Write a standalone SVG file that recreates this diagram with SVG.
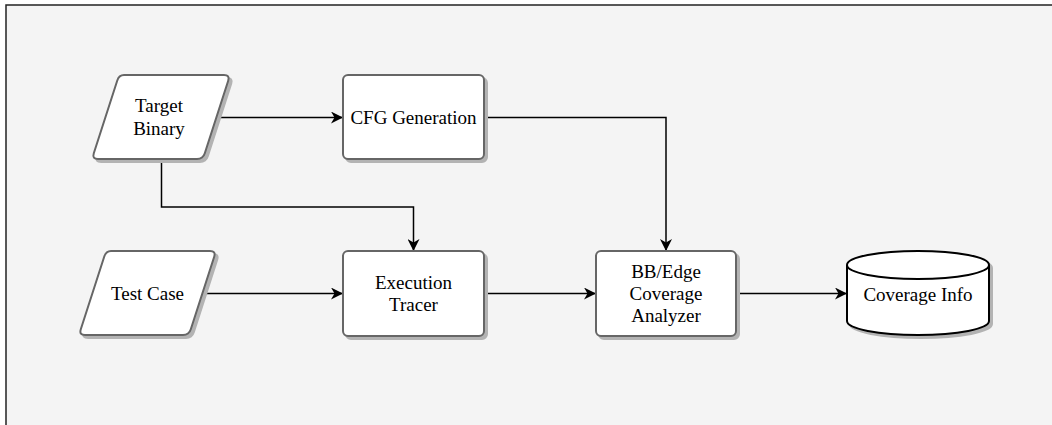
<svg xmlns="http://www.w3.org/2000/svg" width="1052" height="425" viewBox="0 0 1052 425">
  <style>
    .node { fill: #ffffff; stroke: #666666; stroke-width: 2; }
    .shadow { fill: #b3b3b3; stroke: #b3b3b3; stroke-width: 2; }
    .db { fill: #ffffff; stroke: #000000; stroke-width: 2; }
    .label { font-family: "Liberation Serif", "Times New Roman", serif; font-size: 19px; fill: #000000; text-anchor: middle; }
    .edge { fill: none; stroke: #000000; stroke-width: 1.5; }
  </style>
  <defs>
    <marker id="arrow" markerUnits="userSpaceOnUse" markerWidth="13" markerHeight="12" viewBox="0 0 13 12" refX="12" refY="6" orient="auto">
      <path d="M0,0 L12,6 L0,12 L3.5,6 Z" fill="#000000"/>
    </marker>
    <path id="shape-target" d="M124,75 H224 Q230,75 228.2,80.7 L204.8,153.3 Q203,159 197,159 H98 Q92,159 93.8,153.3 L117.2,80.7 Q119,75 124,75 Z"/>
    <path id="shape-test" d="M111,251 H210 Q216,251 214.2,256.7 L190.8,329.3 Q189,335 183,335 H85 Q79,335 80.8,329.3 L104.2,256.7 Q106,251 111,251 Z"/>
    <path id="shape-db" d="M847,265 A71,14 0 0 1 989,265 V321 A71,14 0 0 1 847,321 Z"/>
  </defs>

  <!-- background panel -->
  <rect x="6" y="5" width="1060" height="440" fill="#f4f4f4" stroke="#222222" stroke-width="1.5"/>

  <!-- connectors -->
  <g id="connectors">
    <path class="edge" d="M216.5,117.5 H343" marker-end="url(#arrow)"/>
    <path class="edge" d="M161.5,159 V207 H413.5 V251" marker-end="url(#arrow)"/>
    <path class="edge" d="M202.5,293.5 H343" marker-end="url(#arrow)"/>
    <path class="edge" d="M484,117.5 H666 V251" marker-end="url(#arrow)"/>
    <path class="edge" d="M484,293.5 H596" marker-end="url(#arrow)"/>
    <path class="edge" d="M736,293.5 H847" marker-end="url(#arrow)"/>
  </g>

  <g id="target-binary">
    <use href="#shape-target" class="shadow" transform="translate(3,3)"/>
    <use href="#shape-target" class="node"/>
    <text class="label" x="159" y="112">Target</text>
    <text class="label" x="159" y="135">Binary</text>
  </g>

  <g id="cfg-generation">
    <rect class="shadow" x="346" y="78" width="141" height="84" rx="5"/>
    <rect class="node" x="343" y="75" width="141" height="84" rx="5"/>
    <text class="label" x="413.5" y="124">CFG Generation</text>
  </g>

  <g id="test-case">
    <use href="#shape-test" class="shadow" transform="translate(3,3)"/>
    <use href="#shape-test" class="node"/>
    <text class="label" x="147.5" y="300">Test Case</text>
  </g>

  <g id="execution-tracer">
    <rect class="shadow" x="346" y="254" width="141" height="85" rx="5"/>
    <rect class="node" x="343" y="251" width="141" height="85" rx="5"/>
    <text class="label" x="413.5" y="289">Execution</text>
    <text class="label" x="413.5" y="311">Tracer</text>
  </g>

  <g id="coverage-analyzer">
    <rect class="shadow" x="599" y="254" width="140" height="85" rx="5"/>
    <rect class="node" x="596" y="251" width="140" height="85" rx="5"/>
    <text class="label" x="666" y="278">BB/Edge</text>
    <text class="label" x="666" y="300">Coverage</text>
    <text class="label" x="666" y="322">Analyzer</text>
  </g>

  <g id="coverage-info">
    <use href="#shape-db" class="shadow" transform="translate(3,3)"/>
    <use href="#shape-db" class="db"/>
    <path d="M847,265 A71,14 0 0 0 989,265" fill="none" stroke="#000000" stroke-width="2"/>
    <text class="label" x="918" y="300.5">Coverage Info</text>
  </g>
</svg>
